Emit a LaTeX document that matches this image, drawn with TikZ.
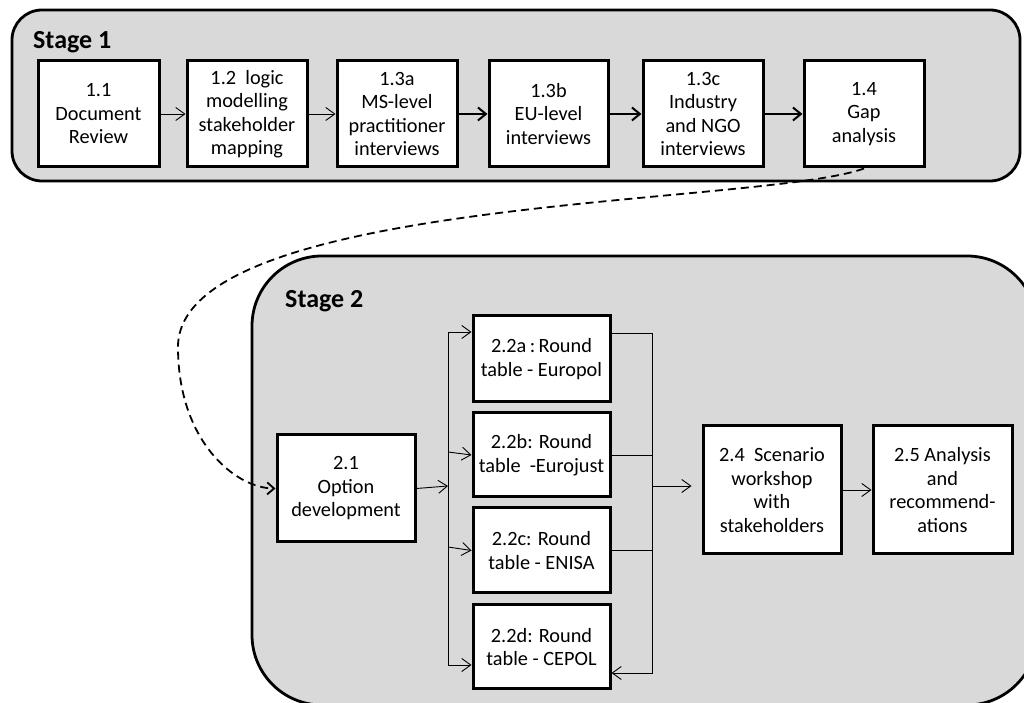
\documentclass[tikz,border=0pt]{standalone}
\usepackage{fontspec}
\setmainfont{Carlito}
\usetikzlibrary{arrows.meta}
\definecolor{stagegray}{HTML}{D9D9D9}
\begin{document}
\begin{tikzpicture}[x=1pt,y=1pt,
  stagebox/.style={draw=black,fill=stagegray,line width=2.8pt,rounded corners=#1},
  stagelabel/.style={anchor=base west,font=\fontsize{26}{31}\selectfont\bfseries,inner sep=0pt},
  taskbox/.style={draw=black,fill=white,line width=3pt,align=center,inner sep=0pt,
    font=\fontsize{20.3}{23.5}\selectfont},
  thinarrow/.style={line width=0.9pt,-{Straight Barb[length=9pt,width=13pt,line width=0.9pt]}},
  thickarrow/.style={line width=2pt,-{Straight Barb[length=8pt,width=13pt,line width=2pt]}},
  thinline/.style={line width=0.9pt},
  dasharrow/.style={line width=1.8pt,dash pattern=on 8pt off 5pt,
    -{Straight Barb[length=7pt,width=12pt,line width=1.8pt]}}
]
\useasboundingbox (0,0) rectangle (1024,703);
\clip (0,0) rectangle (1024,703);

% Stage frames
\draw[stagebox=30pt] (12,693) rectangle (1020,522);
\draw[stagebox=70pt] (252,447) rectangle (1037,-2);
\node[stagelabel] (s1) at (33,654) {Stage 1};
\node[stagelabel] (s2) at (285,395) {Stage 2};

% Stage 1 boxes
\node[taskbox,minimum width=121pt,minimum height=106pt] (n11) at (98.5,589) {1.1\\Document\\Review};
\node[taskbox,minimum width=120pt,minimum height=106pt] (n12) at (247,589) {1.2\ \ logic\\modelling\\stakeholder\\mapping};
\node[taskbox,minimum width=120pt,minimum height=106pt] (n13a) at (397,589) {1.3a\\MS-level\\practitioner\\interviews};
\node[taskbox,minimum width=119pt,minimum height=106pt] (n13b) at (548.5,589) {1.3b\\EU-level\\interviews};
\node[taskbox,minimum width=120pt,minimum height=106pt] (n13c) at (703,589) {1.3c\\Industry\\and NGO\\interviews};
\node[taskbox,minimum width=120pt,minimum height=106pt] (n14) at (864,589) {1.4\\Gap\\analysis};

\draw[thinarrow] (n11) -- (n12);
\draw[thinarrow] (n12) -- (n13a);
\draw[thickarrow] (n13a) -- (n13b);
\draw[thickarrow] (n13b) -- (n13c);
\draw[thickarrow] (n13c) -- (n14);

% Stage 2 boxes
\node[taskbox,minimum width=138pt,minimum height=107pt] (n21) at (346,214.5) {2.1\\Option\\development};
\node[taskbox,minimum width=137pt,minimum height=86pt] (n22a) at (541.5,344) {2.2a\,:\,Round\\table - Europol};
\node[taskbox,minimum width=137pt,minimum height=84pt] (n22b) at (541.5,248) {2.2b: Round\\table\ \ -Eurojust};
\node[taskbox,minimum width=137pt,minimum height=85pt] (n22c) at (541.5,152.5) {2.2c: Round\\table - ENISA};
\node[taskbox,minimum width=137pt,minimum height=84pt] (n22d) at (541.5,56) {2.2d: Round\\table - CEPOL};
\node[taskbox,minimum width=138pt,minimum height=128pt] (n24) at (772,213) {2.4\ \ Scenario\\workshop\\with\\stakeholders};
\node[taskbox,minimum width=139pt,minimum height=128pt] (n25) at (942.5,213) {2.5 Analysis\\and\\recommend-\\ations};

% left bus
\coordinate (lbT) at (448,371);
\coordinate (lbB) at (448,38);
\coordinate (lbM) at (448,217);
\coordinate (lb2) at (448,251);
\coordinate (lb3) at (448,156);
\draw[thinline] (lbT) -- (lbB);
\draw[thinarrow] (n21.east) -- (lbM);
\draw[thinarrow] (lbT) -- (lbT -| n22a.west);
\draw[thinarrow] (lb2) -- (n22b.west);
\draw[thinarrow] (lb3) -- (n22c.west);
\draw[thinarrow] (lbB) -- (lbB -| n22d.west);

% right bus
\coordinate (rbT) at (652,370);
\coordinate (rbB) at (652,30);
\coordinate (rbM) at (652,217);
\draw[thinarrow] (rbT -| n22a.east) -- (rbT) -- (rbB) -- (rbB -| n22d.east);
\draw[thinline] (n22b.east) -- (n22b.east -| rbT);
\draw[thinline] (n22c.east) -- (n22c.east -| rbT);
\draw[thinarrow,shorten >=10pt] (rbM) -- (rbM -| n24.west);
\draw[thinarrow] (n24) -- (n25);

% dashed link from stage 1 to stage 2
\coordinate (dmid) at (178,356);
\draw[dasharrow] (n14.south) .. controls (760,497) and (178,507) .. (dmid)
  .. controls (178,262) and (235,215) .. (n21.west);
\end{tikzpicture}
\end{document}
